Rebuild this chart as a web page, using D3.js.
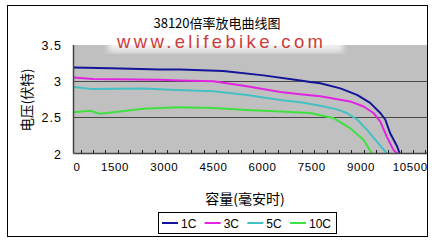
<!DOCTYPE html>
<html>
<head>
<meta charset="utf-8">
<style>
  body { margin: 0; background: #fff; }
  svg { display: block; }
  text { font-family: "Liberation Sans", "DejaVu Sans", sans-serif; fill: #000; }
  .cjk { font-family: "Noto Sans CJK SC", sans-serif; }
</style>
</head>
<body>
<div class="chartArea"></div>
<script src="https://cdn.jsdelivr.net/npm/d3@7"></script>
<script>
  // chart texts
  const chartTitle = "38120倍率放电曲线图";
  const xTitle = "容量(毫安时)";
  const yTitle = "电压(伏特)";
  const watermark = "www.elifebike.com";

  // series (capacity in mAh, voltage in V)
  const seriesNames = ["1C", "3C", "5C", "10C"];
  const seriesColors = ["#14149a", "#e024e0", "#44c0c4", "#40e040"];

  const cap1C = [155, 1270, 2790, 3400, 4720, 5950, 7070, 7370, 7680, 8290, 8800, 9200, 9510, 9660, 9810, 10020, 10100];
  const volt1C = [3.19, 3.18, 3.16, 3.16, 3.14, 3.08, 3.01, 2.99, 2.97, 2.90, 2.81, 2.70, 2.56, 2.47, 2.28, 2.10, 2.0];

  const cap3C = [155, 750, 2790, 3400, 4420, 5440, 6460, 7070, 7680, 8590, 9000, 9300, 9510, 9710, 9910, 10020];
  const volt3C = [3.05, 3.03, 3.02, 3.01, 3.00, 2.93, 2.85, 2.82, 2.79, 2.72, 2.65, 2.56, 2.44, 2.23, 2.05, 2.0];

  const cap5C = [155, 750, 2280, 3100, 4420, 5440, 6460, 7070, 7680, 8190, 8490, 8800, 9100, 9410, 9710];
  const volt5C = [2.92, 2.89, 2.90, 2.88, 2.86, 2.81, 2.74, 2.71, 2.66, 2.61, 2.56, 2.47, 2.33, 2.16, 2.0];

  const cap10C = [155, 660, 960, 1170, 2280, 3320, 4420, 5440, 6460, 7370, 7680, 8080, 8590, 9000, 9250];
  const volt10C = [2.57, 2.59, 2.55, 2.56, 2.62, 2.64, 2.63, 2.60, 2.58, 2.56, 2.53, 2.49, 2.35, 2.19, 2.0];

  // axis ticks
  const xTickLabels = [0, 1500, 3000, 4500, 6000, 7500, 9000, 10500];
  const xMinorStep = 375;
  const yTickLabels = [2, 2.5, 3, 3.5];

  const capSeries = [cap1C, cap3C, cap5C, cap10C];
  const voltSeries = [volt1C, volt3C, volt5C, volt10C];

  const width = 439, height = 249;
  const plot = { left: 73.5, right: 427, top: 45, bottom: 153.5 };

  const svg = d3.select(".chartArea")
    .append("svg")
    .attr("width", width)
    .attr("height", height);

  // outer frame
  svg.append("rect")
    .attr("x", 7.5).attr("y", 5.5)
    .attr("width", 420).attr("height", 231)
    .attr("fill", "#fff").attr("stroke", "#000");

  const x = d3.scaleLinear().domain([0, 10500]).range([68.4, 412.8]);
  const y = d3.scaleLinear().domain([2, 3.5]).range([plot.bottom, plot.top]);

  // plot background
  svg.append("rect")
    .attr("x", plot.left).attr("y", plot.top)
    .attr("width", plot.right - plot.left).attr("height", plot.bottom - plot.top)
    .attr("fill", "#c0c0c0");

  // gridlines
  svg.selectAll(".grid")
    .data([2.5, 3])
    .enter().append("line")
    .attr("x1", plot.left).attr("x2", plot.right)
    .attr("y1", d => Math.round(y(d)) + 0.5).attr("y2", d => Math.round(y(d)) + 0.5)
    .attr("stroke", "#4a4a4a").attr("stroke-width", 1.2);

  // clip for lines
  svg.append("clipPath").attr("id", "clip")
    .append("rect")
    .attr("x", plot.left).attr("y", plot.top)
    .attr("width", plot.right - plot.left).attr("height", plot.bottom - plot.top);

  const line = d3.line()
    .x(d => x(d[0]))
    .y(d => y(d[1]));

  svg.append("g").attr("clip-path", "url(#clip)")
    .selectAll("path")
    .data(seriesNames)
    .enter().append("path")
    .attr("d", (d, i) => line(capSeries[i].map((c, j) => [c, voltSeries[i][j]])))
    .attr("fill", "none")
    .attr("stroke", (d, i) => seriesColors[i])
    .attr("stroke-width", 2)
    .attr("stroke-linejoin", "round");

  // axis lines
  svg.append("line")
    .attr("x1", plot.left).attr("x2", plot.left)
    .attr("y1", plot.top).attr("y2", plot.bottom)
    .attr("stroke", "#444").attr("stroke-width", 1.5);
  svg.append("line")
    .attr("x1", plot.left).attr("x2", plot.right)
    .attr("y1", plot.bottom).attr("y2", plot.bottom)
    .attr("stroke", "#444").attr("stroke-width", 1.5);

  // minor ticks on x axis (pointing up)
  const minorTicks = d3.range(xMinorStep, 10900, xMinorStep);
  svg.selectAll(".tick")
    .data(minorTicks)
    .enter().append("line")
    .attr("x1", d => Math.round(x(d)) + 0.5).attr("x2", d => Math.round(x(d)) + 0.5)
    .attr("y1", plot.bottom).attr("y2", plot.bottom - 3.5)
    .attr("stroke", "#222");

  // x tick labels
  svg.selectAll(".xlab")
    .data(xTickLabels)
    .enter().append("text")
    .attr("x", (d, i) => i === 0 ? plot.left : x(d) - 2.6)
    .attr("y", 171)
    .attr("text-anchor", (d, i) => i === 0 ? "start" : "middle")
    .attr("font-size", 11.5)
    .attr("letter-spacing", 0.6)
    .text(d => d);

  // y tick labels
  svg.selectAll(".ylab")
    .data(yTickLabels)
    .enter().append("text")
    .attr("x", 62)
    .attr("y", d => y(d) + 5)
    .attr("text-anchor", "end")
    .attr("font-size", 12.5)
    .attr("letter-spacing", 1)
    .text(d => d);

  // watermark band and text
  const defs = svg.append("defs");
  defs.append("filter").attr("id", "blur")
    .append("feGaussianBlur").attr("stdDeviation", 3);
  svg.append("rect")
    .attr("x", 108).attr("y", 34)
    .attr("width", 235).attr("height", 18)
    .attr("fill", "#fff").attr("opacity", 0.75)
    .attr("filter", "url(#blur)");
  svg.append("text")
    .attr("x", 117).attr("y", 48)
    .attr("font-size", 18.5)
    .attr("textLength", 206)
    .attr("lengthAdjust", "spacing")
    .style("fill", "#d03a3a")
    .text(watermark);

  // titles
  svg.append("text")
    .attr("class", "cjk")
    .attr("x", 217).attr("y", 28)
    .attr("text-anchor", "middle")
    .attr("font-size", 13)
    .text(chartTitle);

  svg.append("text")
    .attr("class", "cjk")
    .attr("x", 245).attr("y", 204)
    .attr("text-anchor", "middle")
    .attr("font-size", 14)
    .text(xTitle);

  svg.append("text")
    .attr("class", "cjk")
    .attr("transform", "translate(32,100) rotate(-90)")
    .attr("text-anchor", "middle")
    .attr("font-size", 13.5)
    .text(yTitle);

  // legend
  const legend = svg.append("g");
  legend.append("rect")
    .attr("x", 158.5).attr("y", 212.5)
    .attr("width", 178).attr("height", 21)
    .attr("fill", "#fff").attr("stroke", "#000");

  const legendX = d3.scalePoint().domain(seriesNames).range([162, 290]);
  const items = legend.selectAll(".item")
    .data(seriesNames)
    .enter().append("g")
    .attr("transform", d => `translate(${legendX(d)},223)`);
  items.append("line")
    .attr("x1", 0).attr("x2", 16)
    .attr("stroke", (d, i) => seriesColors[i])
    .attr("stroke-width", 2);
  items.append("text")
    .attr("x", 19).attr("y", 4.5)
    .attr("font-size", 12)
    .text(d => d);
</script>
</body>
</html>
